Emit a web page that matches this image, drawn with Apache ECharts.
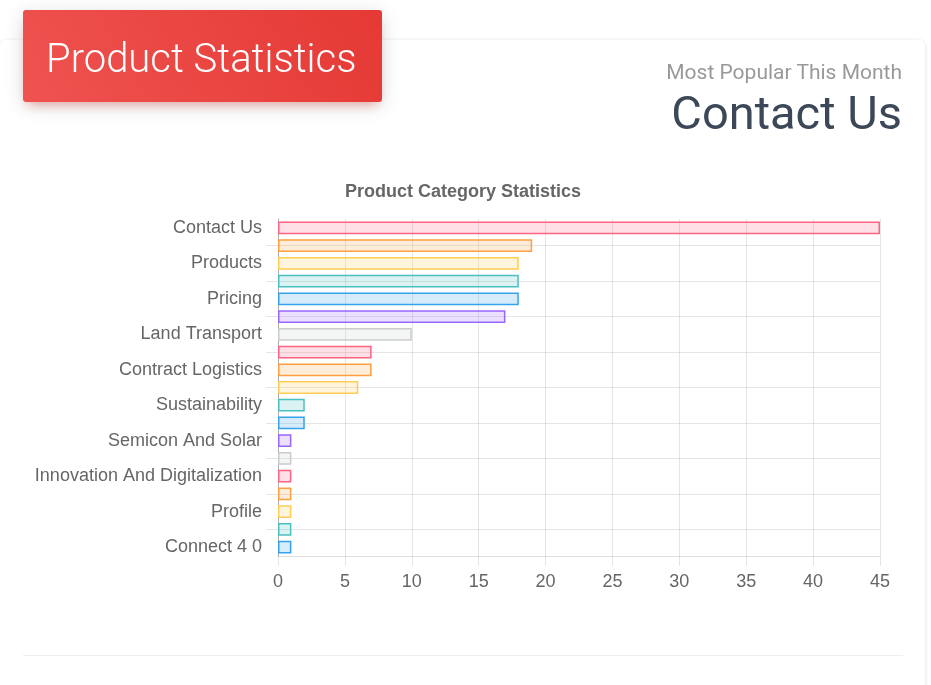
<!DOCTYPE html>
<html>
<head>
<meta charset="utf-8">
<script src="https://cdn.jsdelivr.net/npm/echarts@6/dist/echarts.min.js"></script>
<style>
  html, body { margin: 0; padding: 0; width: 931px; height: 685px; background: #fff; overflow: hidden; font-family: Roboto, "Liberation Sans", Arial, sans-serif; }
  .card { position: absolute; left: 0; top: 40px; width: 925px; height: 700px; background: #fff; border-radius: 6px; box-shadow: 0 1px 4px 0 rgba(0,0,0,0.14); }
  .header { position: absolute; left: 23px; top: 10px; width: 359px; height: 92px; border-radius: 3px;
    background: linear-gradient(60deg, #ef5350, #e53935);
    box-shadow: 0 4px 20px 0 rgba(0,0,0,0.14), 0 7px 10px -5px rgba(244,67,54,0.4); z-index: 3; }
  .header h4 { margin: 0; position: absolute; left: 23px; top: 25px; color: #fff; font-family: Roboto, sans-serif; font-weight: 300; font-size: 40px; line-height: 48px; white-space: nowrap; }
  .sub { position: absolute; right: 29px; top: 60px; color: #999; font-family: Roboto, sans-serif; font-weight: 400; font-size: 21px; line-height: 24px; z-index: 2; }
  .big { position: absolute; right: 29px; top: 85px; color: #3c4858; font-family: Roboto, sans-serif; font-weight: 400; font-size: 47px; line-height: 56px; z-index: 2; }
  .sep { position: absolute; left: 23px; top: 655px; width: 880px; height: 1px; background: #eee; z-index: 2; }
  #chart { position: absolute; left: 0; top: 0; width: 931px; height: 685px; z-index: 1; }
</style>
</head>
<body>
<div class="card"></div>
<div class="header"><h4>Product Statistics</h4></div>
<div class="sub">Most Popular This Month</div>
<div class="big">Contact Us</div>
<div class="sep"></div>
<div id="chart"></div>
<script>
// Categories (only every other label is visible in the reference; hidden names are placeholders)
const categories = [
  "Contact Us", "About Us", "Products", "Services", "Pricing", "Careers",
  "Land Transport", "Air Freight", "Contract Logistics", "Ocean Freight",
  "Sustainability", "News", "Semicon And Solar", "Industries",
  "Innovation And Digitalization", "Locations", "Profile", "Events", "Connect 4 0"
];
const values = [45, 19, 18, 18, 18, 17, 10, 7, 7, 6, 2, 2, 1, 1, 1, 1, 1, 1, 1];
const xTicks = { min: 0, max: 45, interval: 5 };
const chartTitle = "Product Category Statistics";

const borderPalette = [
  "rgb(255,99,132)", "rgb(255,159,64)", "rgb(255,205,86)", "rgb(75,192,192)",
  "rgb(54,162,235)", "rgb(153,102,255)", "rgb(201,203,207)"
];
const fillPalette = [
  "rgba(255,99,132,0.2)", "rgba(255,159,64,0.2)", "rgba(255,205,86,0.2)", "rgba(75,192,192,0.2)",
  "rgba(54,162,235,0.2)", "rgba(153,102,255,0.2)", "rgba(201,203,207,0.2)"
];

const chart = echarts.init(document.getElementById('chart'), null, { renderer: 'canvas' });
const font = '"Liberation Sans", Arial, Helvetica, sans-serif';

chart.setOption({
  animation: false,
  title: {
    text: chartTitle,
    left: 458, top: 178, textAlign: 'center',
    textStyle: { fontFamily: font, fontWeight: 'bold', fontSize: 18, color: '#666' }
  },
  grid: { left: 278, right: 51, top: 219, height: 337, containLabel: false },
  xAxis: {
    type: 'value', min: xTicks.min, max: xTicks.max, interval: xTicks.interval,
    axisLine: { show: true, lineStyle: { color: 'rgba(0,0,0,0.12)', width: 1 } },
    axisTick: { show: true, length: 10, lineStyle: { color: 'rgba(0,0,0,0.1)' } },
    axisLabel: { color: '#666', fontFamily: font, fontSize: 18, margin: 17 },
    splitLine: { show: true, lineStyle: { color: 'rgba(0,0,0,0.1)', width: 1 } }
  },
  yAxis: {
    type: 'category', data: categories, inverse: true,
    axisLine: { show: true, lineStyle: { color: 'rgba(0,0,0,0.25)', width: 1 } },
    axisTick: { show: true, length: 12, alignWithLabel: true,
      interval: function (i) { return i % 2 === 1; },
      lineStyle: { color: 'rgba(0,0,0,0.1)' } },
    axisLabel: { color: '#666', fontFamily: font, fontSize: 18, margin: 16, interval: 1 },
    splitLine: { show: true, alignWithLabel: true,
      interval: function (i) { return i % 2 === 1; },
      lineStyle: { color: 'rgba(0,0,0,0.1)', width: 1 } }
  },
  series: [{
    type: 'bar',
    data: values.map(function (v, i) {
      return {
        value: v,
        itemStyle: { color: fillPalette[i % 7], borderColor: borderPalette[i % 7], borderWidth: 1.5 }
      };
    }),
    barWidth: '72%',
    silent: true
  }]
});
</script>
</body>
</html>
